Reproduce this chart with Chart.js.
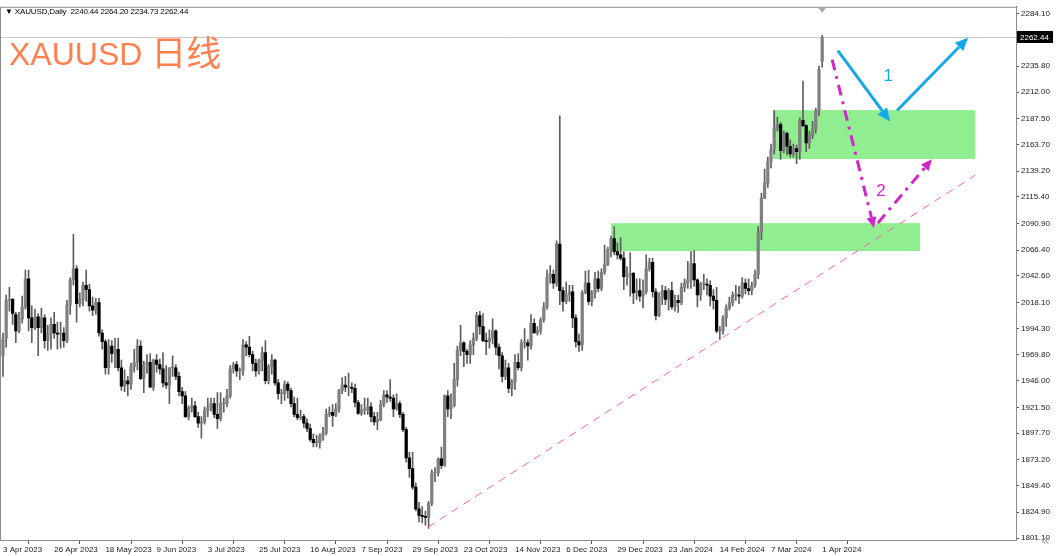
<!DOCTYPE html>
<html>
<head>
<meta charset="utf-8">
<script src="https://cdn.jsdelivr.net/npm/chart.js@4.4.1/dist/chart.umd.min.js"></script>
<style>
  body { margin: 0; background: #fff; }
  #wrap { position: relative; width: 1056px; height: 556px; overflow: hidden; }
  #header { position: absolute; left: 5px; top: 7px; font: 8px "Liberation Sans", Arial, sans-serif; color: #000; white-space: pre; letter-spacing: -0.15px; }
  #title { position: absolute; left: 9px; top: 24px; font: 32px "Liberation Sans", "Noto Sans CJK SC", sans-serif; color: #FF7F50; white-space: pre; }
  #title span { font: 35px "Noto Sans CJK SC", sans-serif; position: relative; top: 1px; }
  #corner { position: absolute; left: 1041px; top: 532px; font: 14px "DejaVu Sans", sans-serif; color: #999; }
</style>
</head>
<body>
<div id="wrap">
  <canvas id="myChart" width="1056" height="556"></canvas>
  <div id="header">▼ XAUUSD,Daily  2240.44 2264.20 2234.73 2262.44</div>
  <div id="title">XAUUSD <span>日线</span></div>
  <div id="corner">«</div>
</div>
<script>
// daily bars, 3 Apr 2023 .. 1 Apr 2024
const opens = [1969,1985,2020,2021,2007,1992,2003,2014,2040,2004,
  1995,2005,1995,2004,1983,1989,1998,1990,1989,1990,
  1983,2016,2039,2049,2017,2021,2034,2030,2015,2011,
  2018,1990,1982,1958,1978,1971,1975,1958,1941,1946,
  1943,1959,1963,1978,1948,1961,1963,1940,1965,1961,
  1957,1944,1942,1958,1958,1950,1936,1932,1913,1921,
  1923,1913,1907,1908,1919,1921,1925,1915,1911,1925,
  1925,1932,1957,1961,1955,1955,1979,1977,1970,1962,
  1955,1965,1972,1946,1959,1965,1944,1934,1934,1943,
  1937,1925,1915,1912,1913,1907,1902,1892,1889,1889,
  1895,1898,1915,1917,1914,1920,1937,1942,1940,1940,
  1939,1926,1916,1919,1919,1922,1913,1908,1910,1924,
  1933,1931,1930,1920,1925,1915,1901,1875,1865,1848,
  1828,1822,1821,1820,1833,1861,1861,1874,1868,1932,
  1920,1923,1947,1974,1981,1973,1970,1979,1985,2006,
  1996,1983,1982,1985,1992,1977,1969,1950,1958,1939,
  1945,1963,1958,1981,1981,1978,1999,1990,1992,2002,
  2014,2041,2044,2036,2072,2029,2019,2025,2028,2004,
  1982,1979,2027,2036,2019,2027,2040,2031,2046,2053,
  2067,2077,2065,2062,2059,2042,2043,2045,2027,2029,
  2024,2028,2049,2055,2028,2006,2023,2029,2021,2029,
  2014,2020,2018,2032,2036,2039,2054,2039,2025,2035,
  2035,2034,2024,2020,1992,1992,2004,2013,2018,2025,
  2025,2024,2036,2031,2029,2034,2044,2083,2114,2128,
  2148,2159,2179,2182,2158,2174,2162,2155,2160,2157,
  2186,2181,2165,2172,2178,2195,2240.44];
const highs = [1990,2025,2032,2022,2009,2009,2024,2048,2048,2015,
  2012,2008,2013,2007,1997,2004,2009,2000,2000,1995,
  2020,2041,2081,2052,2027,2037,2048,2035,2023,2022,
  2022,1993,1984,1984,1983,1985,1985,1965,1956,1950,
  1962,1975,1984,1983,1964,1970,1971,1966,1970,1966,
  1972,1960,1958,1969,1961,1954,1940,1936,1923,1930,
  1927,1917,1913,1922,1930,1930,1930,1935,1935,1930,
  1938,1960,1963,1964,1958,1984,1982,1987,1973,1966,
  1966,1977,1983,1961,1970,1966,1947,1938,1946,1945,
  1939,1931,1930,1919,1915,1911,1906,1897,1896,1897,
  1903,1920,1922,1924,1925,1938,1949,1950,1953,1944,
  1943,1928,1924,1930,1930,1926,1917,1917,1928,1937,
  1937,1947,1933,1934,1927,1917,1903,1880,1880,1852,
  1834,1830,1826,1835,1864,1866,1875,1885,1933,1937,
  1934,1962,1978,1997,1982,1975,1983,1990,2009,2010,
  2008,1990,1993,2003,1993,1980,1972,1965,1962,1947,
  1970,1971,1984,1994,1984,2007,2003,1996,2004,2018,
  2048,2052,2048,2075,2190,2032,2037,2034,2034,2007,
  1989,2029,2047,2048,2029,2046,2047,2049,2071,2069,
  2079,2088,2073,2078,2065,2051,2064,2046,2040,2040,
  2039,2062,2059,2059,2031,2027,2034,2033,2031,2037,
  2025,2025,2036,2040,2056,2065,2066,2040,2037,2044,
  2040,2038,2030,2032,1996,2006,2016,2023,2028,2034,
  2033,2041,2040,2040,2037,2048,2088,2119,2141,2152,
  2164,2195,2189,2184,2176,2175,2168,2164,2163,2188,
  2222,2182,2176,2185,2197,2236,2264.20];
const lows = [1950,1977,2010,1998,1981,1990,1999,2012,1992,1981,
  1993,1969,1990,1976,1974,1975,1985,1975,1976,1977,
  1981,2007,2034,2000,2014,2015,2019,2010,2006,2007,
  1987,1975,1952,1952,1963,1958,1955,1937,1936,1932,
  1938,1954,1956,1947,1935,1953,1940,1937,1954,1952,
  1940,1939,1925,1950,1947,1932,1925,1912,1910,1917,
  1912,1903,1893,1906,1913,1918,1912,1902,1909,1917,
  1922,1930,1953,1950,1947,1951,1969,1968,1955,1950,
  1952,1955,1943,1943,1952,1942,1929,1925,1928,1930,
  1922,1913,1910,1910,1903,1899,1890,1885,1885,1884,
  1891,1896,1913,1904,1913,1917,1934,1936,1932,1935,
  1922,1915,1914,1915,1915,1908,1905,1901,1909,1922,
  1926,1927,1913,1919,1912,1899,1871,1857,1846,1826,
  1816,1815,1813,1810,1831,1853,1858,1865,1867,1913,
  1911,1922,1941,1969,1959,1962,1962,1970,1983,1989,
  1982,1970,1976,1980,1970,1957,1945,1947,1935,1932,
  1938,1956,1955,1976,1965,1975,1990,1988,1989,2000,
  2012,2036,2031,2033,2016,2010,2017,2019,1995,1977,
  1973,1974,2026,2016,2015,2022,2028,2029,2044,2052,
  2060,2062,2058,2057,2030,2034,2024,2017,2021,2019,
  2013,2026,2047,2023,2002,2005,2016,2016,2011,2012,
  2010,2009,2016,2028,2031,2031,2033,2014,2020,2030,
  2025,2015,2012,1990,1984,1989,1996,2011,2015,2020,
  2017,2022,2026,2025,2025,2032,2040,2076,2114,2124,
  2142,2155,2176,2150,2156,2154,2152,2152,2146,2150,
  2180,2157,2160,2169,2174,2190,2234.73];
const closes = [1984,2020,2021,2008,1992,2003,2014,2040,2004,1995,
  2005,1995,2004,1983,1989,1998,1990,1989,1990,1983,
  2016,2039,2049,2017,2021,2034,2030,2015,2011,2018,
  1990,1982,1958,1978,1971,1975,1958,1941,1946,1943,
  1959,1963,1978,1948,1961,1963,1940,1965,1961,1957,
  1944,1942,1958,1958,1950,1936,1932,1913,1921,1923,
  1913,1907,1908,1919,1921,1925,1915,1911,1925,1925,
  1932,1957,1961,1955,1955,1979,1977,1970,1962,1955,
  1965,1972,1946,1959,1965,1944,1934,1934,1943,1937,
  1925,1915,1912,1913,1907,1902,1892,1889,1889,1895,
  1898,1915,1917,1914,1920,1937,1942,1940,1940,1939,
  1926,1916,1919,1919,1922,1913,1908,1910,1924,1933,
  1931,1930,1920,1925,1915,1901,1875,1865,1848,1828,
  1822,1821,1820,1833,1861,1861,1874,1868,1932,1920,
  1923,1947,1974,1981,1973,1970,1979,1985,2006,1996,
  1983,1982,1985,1992,1977,1969,1950,1958,1939,1945,
  1963,1958,1981,1981,1978,1999,1990,1992,2002,2014,
  2041,2044,2036,2072,2029,2019,2025,2028,2004,1982,
  1979,2027,2036,2019,2027,2040,2031,2046,2053,2067,
  2077,2065,2062,2059,2042,2043,2045,2027,2029,2024,
  2028,2049,2055,2028,2006,2023,2029,2021,2029,2014,
  2020,2018,2032,2036,2039,2054,2039,2025,2035,2035,
  2034,2024,2020,1992,1992,2004,2013,2018,2025,2025,
  2024,2036,2031,2029,2034,2044,2083,2114,2128,2148,
  2159,2179,2182,2158,2174,2162,2155,2160,2157,2186,
  2181,2165,2172,2178,2195,2233,2262.44];

// axis labels
const dateLabels = ['3 Apr 2023','26 Apr 2023','18 May 2023','9 Jun 2023','3 Jul 2023','25 Jul 2023',
  '16 Aug 2023','7 Sep 2023','29 Sep 2023','23 Oct 2023','14 Nov 2023','6 Dec 2023','29 Dec 2023',
  '23 Jan 2024','14 Feb 2024','7 Mar 2024','1 Apr 2024'];
const barsPerLabel = 16;
const priceTicks = [2284.10,2235.80,2212.00,2187.50,2163.70,2139.20,2115.40,2090.90,2066.40,2042.60,
  2018.10,1994.30,1969.80,1946.00,1921.50,1897.70,1873.20,1849.40,1824.90,1801.10];

// drawn objects (bar index, price)
const zones = [[240.6, 303.8, 2195.3, 2150.3], [190, 286.6, 2091.2, 2065.5]];
const trendLine = [[132.8, 1811.2], [303.75, 2135.3]];
const blueArrows = [[[260.9, 2250.1], [277.2, 2184.9]], [[279.4, 2195.0], [301.6, 2262.1]]];
const pinkArrows = [[[259.1, 2241.9], [272.2, 2086.7]], [[273.4, 2091.3], [290.3, 2150.0]]];
const notes = [['1', 276.6, 2226.3, '#14A8EA'], ['2', 274.4, 2120.7, '#D126C9']];

const lastPrice = closes[closes.length - 1];
const idx = closes.map((_, i) => i);

function drawArrow(ctx, x1, y1, x2, y2, color, width, dash, head) {
    const a = Math.atan2(y2 - y1, x2 - x1);
    const bx = x2 - head * Math.cos(a), by = y2 - head * Math.sin(a);
    ctx.save();
    ctx.strokeStyle = color;
    ctx.fillStyle = color;
    ctx.lineWidth = width;
    ctx.setLineDash(dash);
    ctx.beginPath();
    ctx.moveTo(x1, y1);
    ctx.lineTo(bx, by);
    ctx.stroke();
    ctx.setLineDash([]);
    const w = head * 0.45;
    ctx.beginPath();
    ctx.moveTo(x2, y2);
    ctx.lineTo(bx + w * Math.sin(a), by - w * Math.cos(a));
    ctx.lineTo(bx - w * Math.sin(a), by + w * Math.cos(a));
    ctx.closePath();
    ctx.fill();
    ctx.restore();
}

const overlay = {
    id: 'overlay',
    beforeDatasetsDraw(chart) {
        const { ctx, chartArea: a, scales: { x, y } } = chart;
        ctx.save();
        ctx.beginPath();
        ctx.rect(a.left, a.top, a.right - a.left, a.bottom - a.top);
        ctx.clip();
        ctx.fillStyle = '#90EE90';
        zones.forEach(z => {
            const x1 = x.getPixelForValue(z[0]), x2 = x.getPixelForValue(z[1]);
            const y1 = y.getPixelForValue(z[2]), y2 = y.getPixelForValue(z[3]);
            ctx.fillRect(x1, y1, x2 - x1, y2 - y1);
        });
        // current price line
        const py = Math.round(y.getPixelForValue(lastPrice)) + 0.5;
        ctx.strokeStyle = '#c8c8c8';
        ctx.lineWidth = 1;
        ctx.beginPath();
        ctx.moveTo(a.left, py);
        ctx.lineTo(a.right, py);
        ctx.stroke();
        ctx.restore();
    },
    afterDatasetsDraw(chart) {
        const { ctx, chartArea: a, scales: { x, y } } = chart;
        ctx.save();
        // trend line
        ctx.strokeStyle = '#FF5FB8';
        ctx.lineWidth = 1;
        ctx.setLineDash([8, 6]);
        ctx.beginPath();
        ctx.moveTo(x.getPixelForValue(trendLine[0][0]), y.getPixelForValue(trendLine[0][1]));
        ctx.lineTo(x.getPixelForValue(trendLine[1][0]), y.getPixelForValue(trendLine[1][1]));
        ctx.stroke();
        ctx.setLineDash([]);

        blueArrows.forEach(([p, q]) => drawArrow(ctx,
            x.getPixelForValue(p[0]), y.getPixelForValue(p[1]),
            x.getPixelForValue(q[0]), y.getPixelForValue(q[1]), '#14A8EA', 3, [], 13));
        pinkArrows.forEach(([p, q]) => drawArrow(ctx,
            x.getPixelForValue(p[0]), y.getPixelForValue(p[1]),
            x.getPixelForValue(q[0]), y.getPixelForValue(q[1]), '#D126C9', 3, [11, 6, 3, 6], 11));

        ctx.font = '17px "Liberation Sans", sans-serif';
        ctx.textAlign = 'center';
        ctx.textBaseline = 'middle';
        notes.forEach(n => {
            ctx.fillStyle = n[3];
            ctx.fillText(n[0], x.getPixelForValue(n[1]), y.getPixelForValue(n[2]));
        });

        // frame
        ctx.strokeStyle = '#8c8c8c';
        ctx.lineWidth = 1;
        ctx.strokeRect(a.left - 0.5, a.top + 0.5, a.right - a.left + 1, a.bottom - a.top);

        // shift marker
        const sx = x.getPixelForValue(closes.length - 1);
        ctx.fillStyle = '#a8a8a8';
        ctx.beginPath();
        ctx.moveTo(sx - 4, a.top + 1);
        ctx.lineTo(sx + 4, a.top + 1);
        ctx.lineTo(sx, a.top + 6);
        ctx.closePath();
        ctx.fill();

        // price tag on axis
        const py = Math.round(y.getPixelForValue(lastPrice));
        ctx.fillStyle = '#000';
        ctx.fillRect(a.right + 1, py - 6, 36, 12);
        ctx.fillStyle = '#fff';
        ctx.font = '8px "Liberation Sans", Arial, sans-serif';
        ctx.textAlign = 'left';
        ctx.fillText(lastPrice.toFixed(2), a.right + 4, py + 0.5);
        ctx.restore();
    }
};

Chart.defaults.font.family = '"Liberation Sans", Arial, sans-serif';
Chart.defaults.font.size = 8;
Chart.defaults.color = '#1a1a1a';

const ctx = document.getElementById('myChart').getContext('2d');
const chartInstance = new Chart(ctx, {
    type: 'bar',
    data: {
        datasets: [{
            label: 'wick',
            data: idx.map(i => ({ x: i, y: [lows[i], highs[i]] })),
            backgroundColor: '#5e5e5e',
            barThickness: 1,
            grouped: false,
            order: 2
        }, {
            label: 'body',
            data: idx.map(i => ({ x: i, y: [opens[i], closes[i]] })),
            backgroundColor: idx.map(i => closes[i] >= opens[i] ? '#808080' : '#000000'),
            barThickness: 2.6,
            minBarLength: 1,
            grouped: false,
            order: 1
        }]
    },
    options: {
        responsive: false,
        animation: false,
        devicePixelRatio: 1,
        events: [],
        layout: { padding: { top: 5, left: 1, right: 0, bottom: 0 } },
        plugins: { legend: { display: false }, tooltip: { enabled: false } },
        scales: {
            x: {
                type: 'linear',
                offset: false,
                min: -0.625,
                max: 316.56,
                afterBuildTicks: scale => {
                    scale.ticks = dateLabels.map((_, k) => ({ value: k * barsPerLabel }));
                },
                afterFit: scale => { scale.height = 16; },
                ticks: {
                    autoSkip: false,
                    maxRotation: 0,
                    align: 'start',
                    padding: 1,
                    callback: v => dateLabels[Math.round(v / barsPerLabel)]
                },
                grid: { drawOnChartArea: false, drawTicks: true, tickLength: 4, color: '#555' },
                border: { display: true, color: '#555' }
            },
            y: {
                position: 'right',
                min: 1799.3,
                max: 2290.5,
                afterBuildTicks: scale => {
                    scale.ticks = priceTicks.map(v => ({ value: v }));
                },
                afterFit: scale => { scale.width = 40; },
                ticks: {
                    autoSkip: false,
                    padding: 2,
                    callback: v => v.toFixed(2)
                },
                grid: { drawOnChartArea: false, drawTicks: true, tickLength: 3, color: '#555' },
                border: { display: true, color: '#555' }
            }
        }
    },
    plugins: [overlay]
});
</script>
</body>
</html>
